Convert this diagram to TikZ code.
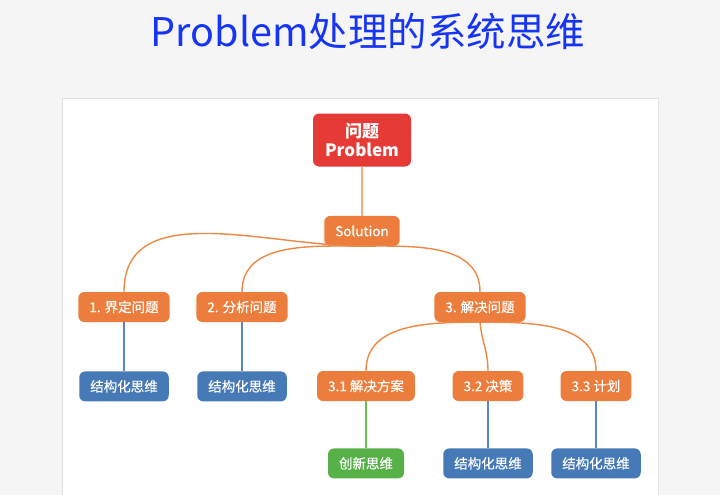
\documentclass[tikz,border=0pt]{standalone}
\usepackage{fontspec}
\setmainfont{Noto Sans CJK SC}
\newfontfamily\medfont[FakeBold=0.35]{Noto Sans CJK SC}
\usetikzlibrary{positioning}
\definecolor{bgcolor}{RGB}{245, 245, 245}
\definecolor{titleblue}{RGB}{22, 52, 245}
\definecolor{rootred}{RGB}{229, 58, 53}
\definecolor{orangefill}{RGB}{236, 125, 60}
\definecolor{orangeline}{RGB}{238, 136, 70}
\definecolor{bluefill}{RGB}{70, 122, 182}
\definecolor{blueline}{RGB}{86, 136, 198}
\definecolor{greenfill}{RGB}{88, 176, 72}
\definecolor{greenline}{RGB}{104, 192, 80}

\begin{document}
\begin{tikzpicture}[x=1pt, y=-1pt,
            tbox/.style={rounded corners=6pt, minimum height=30pt, inner xsep=11pt, text=white, font=\medfont\fontsize{13.5}{16}\selectfont},
            rootbox/.style={tbox, fill=rootred, minimum width=98pt, minimum height=53pt, align=center, font=\fontsize{17}{19}\selectfont\bfseries},
            orangebox/.style={tbox, fill=orangefill},
            bluebox/.style={tbox, fill=bluefill},
            greenbox/.style={tbox, fill=greenfill},
            curve/.style={orangeline, line width=1.4pt},
            stem/.style={line width=1.4pt}
        ]
            \useasboundingbox (0,0) rectangle (720,495);
            \fill[bgcolor] (0,0) rectangle (720,495);
            \filldraw[fill=white, draw=black!12] (62,98) rectangle (658,497);
            \node[text=titleblue, font=\fontsize{39.5}{45}\selectfont] (title) at (368,31) {Problem处理的系统思维};
            
            \node[rootbox] (root) at (362,140) {问题\\Problem};
            \node[orangebox, below=49pt of root] (sol) {Solution};
            
            \node[orangebox] (define) at (124,307) {1. 界定问题};
            \node[orangebox] (analyse) at (242,307) {2. 分析问题};
            \node[orangebox] (resolve) at (480,307) {3.  解决问题};
            
            \node[bluebox, below=49pt of define] (struct1) {结构化思维};
            \node[bluebox, below=49pt of analyse] (struct2) {结构化思维};
            
            \node[orangebox] (plan) at (366,386) {3.1  解决方案};
            \node[orangebox] (decide) at (488,386) {3.2 决策};
            \node[orangebox] (schedule) at (596,386) {3.3 计划};
            
            \node[greenbox, below=47pt of plan] (create) {创新思维};
            \node[bluebox, below=47pt of decide] (struct3) {结构化思维};
            \node[bluebox, below=47pt of schedule] (struct4) {结构化思维};
            
            \draw[stem, orangeline!70] (root) -- (sol);
            \draw[curve] (sol.south) to[out=180, in=90] (define.north);
            \draw[curve] (sol.south) to[out=180, in=90] (analyse.north);
            \draw[curve] (sol.south) to[out=0, in=90] (resolve.north);
            \draw[curve] (resolve.south) to[out=180, in=90] (plan.north);
            \draw[curve] (resolve.south) to[out=-85, in=90] (decide.north);
            \draw[curve] (resolve.south) to[out=0, in=90] (schedule.north);
            
            \draw[stem, blueline] (define) -- (struct1);
            \draw[stem, blueline] (analyse) -- (struct2);
            \draw[stem, greenline] (plan) -- (create);
            \draw[stem, blueline] (decide) -- (struct3);
            \draw[stem, blueline] (schedule) -- (struct4);
        \end{tikzpicture}
\end{document}
